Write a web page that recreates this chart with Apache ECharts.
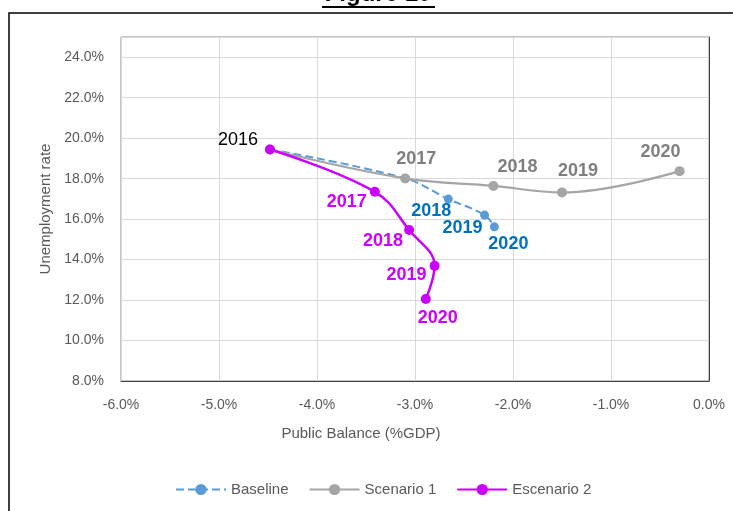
<!DOCTYPE html>
<html>
<head>
<meta charset="utf-8">
<script src="https://cdn.jsdelivr.net/npm/echarts@6/dist/echarts.min.js"></script>
<style>
  html, body { margin: 0; padding: 0; background: #fff; }
  #chart { width: 733px; height: 511px; }
</style>
</head>
<body>
<div id="chart"></div>
<script>
// years shown next to the points
const years = ["2016", "2017", "2018", "2019", "2020"];

// public balance (%GDP) / unemployment rate (%)
const baselineBalance = [-4.48, -3.1, -2.66, -2.29, -2.19];
const baselineUnemp = [19.44, 18.01, 16.99, 16.2, 15.62];
const scenario1Balance = [-4.48, -3.1, -2.2, -1.5, -0.3];
const scenario1Unemp = [19.44, 18.01, 17.64, 17.32, 18.37];
const escenario2Balance = [-4.48, -3.41, -3.06, -2.8, -2.89];
const escenario2Unemp = [19.44, 17.35, 15.46, 13.69, 12.05];

const xTicks = [-6, -5, -4, -3, -2, -1, 0];
const yTicks = [8, 10, 12, 14, 16, 18, 20, 22, 24];

const FONT = "Liberation Sans";
const pct = (v) => v.toFixed(1) + "%";

// where each year label sits around its point
const baselineLabels = [
  null,
  null,
  { position: "bottom", offset: [-17, -7] },
  { position: "bottom", offset: [-22, -6] },
  { position: "bottom", offset: [14, -1] },
];
const scenario1Labels = [
  { position: "left", offset: [-2, -9], color: "#000", fontWeight: "normal" },
  { position: "top", offset: [11, 0] },
  { position: "top", offset: [24, 0] },
  { position: "top", offset: [16, -2] },
  { position: "top", offset: [-19, 0] },
];
const escenario2Labels = [
  null,
  { position: "left", offset: [2, 10] },
  { position: "left", offset: [4, 11] },
  { position: "left", offset: [2, 9] },
  { position: "bottom", offset: [12, 0] },
];

function build(xs, ys, labels) {
  return xs.map((x, i) => ({
    value: [x, ys[i]],
    label: labels[i] ? Object.assign({ show: true }, labels[i]) : { show: false },
  }));
}

const chart = echarts.init(document.getElementById("chart"));
chart.setOption({
  animation: false,
  backgroundColor: "#fff",
  textStyle: { fontFamily: FONT },
  graphic: [
    {
      type: "rect",
      shape: { x: 9, y: 13, width: 800, height: 600 },
      style: { fill: "none", stroke: "#000", lineWidth: 1.5 },
      silent: true,
    },
    {
      type: "text",
      x: 378,
      y: 6,
      style: {
        text: "Figure 10",
        font: "bold 24px " + FONT,
        fill: "#000",
        textAlign: "center",
        textVerticalAlign: "bottom",
      },
      silent: true,
    },
    {
      type: "line",
      shape: { x1: 322, y1: 7, x2: 435, y2: 7 },
      style: { stroke: "#000", lineWidth: 2 },
      silent: true,
    },
  ],
  grid: {
    left: 121,
    right: 24,
    top: 37,
    bottom: 130,
    show: true,
    borderColor: "#8c8c8c",
    borderWidth: 1,
  },
  legend: {
    bottom: 9,
    left: 170,
    itemWidth: 50,
    itemHeight: 14,
    itemGap: 20,
    textStyle: { fontFamily: FONT, fontSize: 15, color: "#595959" },
    data: ["Baseline", "Scenario 1", "Escenario 2"],
  },
  xAxis: {
    type: "value",
    min: xTicks[0],
    max: xTicks[xTicks.length - 1],
    interval: 1,
    name: "Public Balance (%GDP)",
    nameLocation: "middle",
    nameGap: 45,
    nameTextStyle: { fontSize: 15, color: "#595959", padding: [0, 108, 0, 0] },
    axisLine: { lineStyle: { color: "#404040", width: 1 } },
    axisTick: { show: false },
    axisLabel: { formatter: pct, fontSize: 14, color: "#595959", margin: 17 },
    splitLine: { lineStyle: { color: "#d9d9d9", width: 1 } },
  },
  yAxis: {
    type: "value",
    min: yTicks[0],
    max: 25,
    interval: 2,
    name: "Unemployment rate",
    nameLocation: "middle",
    nameGap: 66,
    nameTextStyle: { fontSize: 15, color: "#595959" },
    axisLine: { show: true, lineStyle: { color: "#404040", width: 1 } },
    axisTick: { show: false },
    axisLabel: {
      formatter: pct,
      fontSize: 14,
      color: "#595959",
      margin: 17,
      showMaxLabel: false,
    },
    splitLine: { lineStyle: { color: "#d9d9d9", width: 1 } },
  },
  series: [
    {
      name: "Baseline",
      type: "line",
      smooth: 0.4,
      symbol: "circle",
      symbolSize: 9,
      color: "#5b9bd5",
      lineStyle: { type: "dashed", width: 2, color: "#5b9bd5" },
      label: {
        formatter: (p) => years[p.dataIndex],
        fontSize: 18,
        fontWeight: "bold",
        color: "#0070c0",
        fontFamily: FONT,
      },
      data: build(baselineBalance, baselineUnemp, baselineLabels),
    },
    {
      name: "Scenario 1",
      type: "line",
      smooth: 0.4,
      symbol: "circle",
      symbolSize: 10,
      color: "#a5a5a5",
      lineStyle: { width: 2.25, color: "#a5a5a5" },
      label: {
        formatter: (p) => years[p.dataIndex],
        fontSize: 18,
        fontWeight: "bold",
        color: "#7f7f7f",
        fontFamily: FONT,
      },
      data: build(scenario1Balance, scenario1Unemp, scenario1Labels),
    },
    {
      name: "Escenario 2",
      type: "line",
      smooth: 0.4,
      symbol: "circle",
      symbolSize: 10,
      color: "#cc00ff",
      lineStyle: { width: 2.5, color: "#cc00ff" },
      label: {
        formatter: (p) => years[p.dataIndex],
        fontSize: 18,
        fontWeight: "bold",
        color: "#cc00ff",
        fontFamily: FONT,
      },
      data: build(escenario2Balance, escenario2Unemp, escenario2Labels),
    },
  ],
});
</script>
</body>
</html>
